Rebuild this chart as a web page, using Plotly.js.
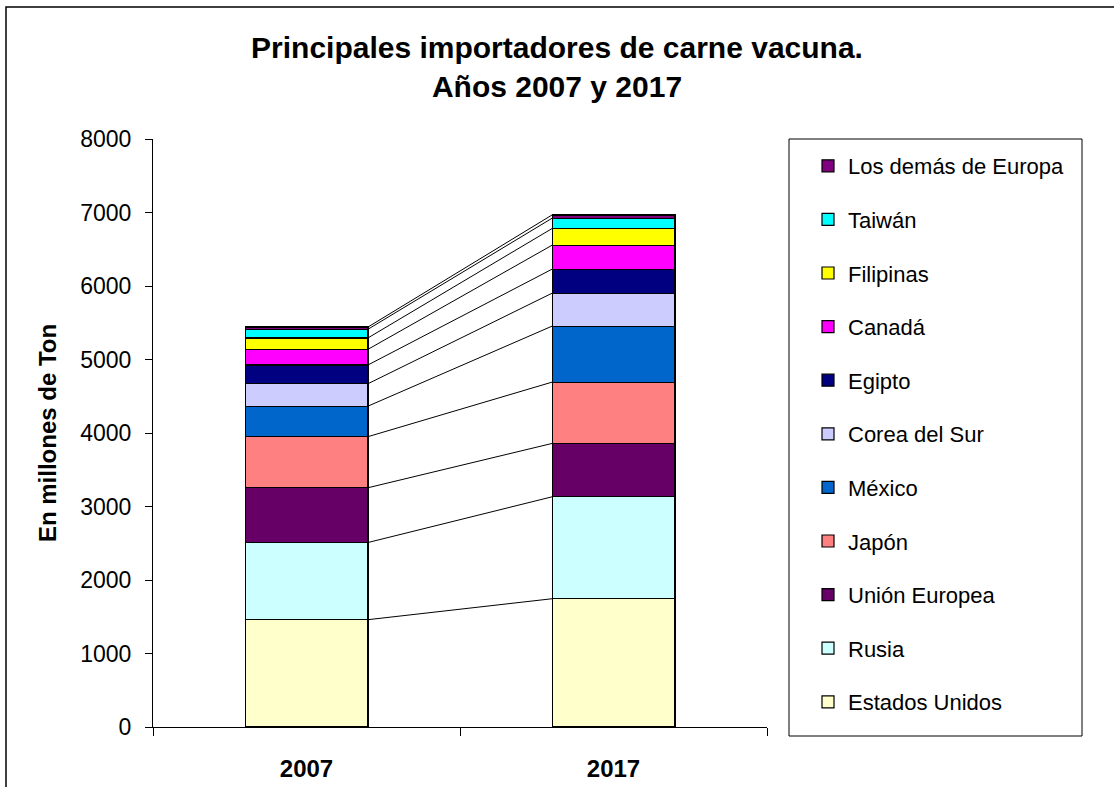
<!DOCTYPE html>
<html>
<head>
<meta charset="utf-8">
<script src="https://cdn.plot.ly/plotly-3.0.1.min.js"></script>
<style>html,body{margin:0;padding:0;background:#fff;} #chart{width:1114px;height:787px;}</style>
</head>
<body>
<div id="chart"></div>
<script>
const years = ['2007', '2017'];
const seriesNames = ['Estados Unidos', 'Rusia', 'Unión Europea', 'Japón', 'México', 'Corea del Sur', 'Egipto', 'Canadá', 'Filipinas', 'Taiwán', 'Los demás de Europa'];
const values2007 = [1460, 1050, 745, 695, 415, 305, 255, 213, 155, 118, 30];
const values2017 = [1745, 1387, 726, 834, 762, 448, 327, 326, 227, 140, 45];
const colors = ['#FFFFCC', '#CCFFFF', '#660066', '#FF8080', '#0066CC', '#CCCCFF', '#000080', '#FF00FF', '#FFFF00', '#00FFFF', '#800080'];

const font = 'Liberation Sans, Arial, sans-serif';
const traces = [];
seriesNames.forEach((name, i) => {
  traces.push({
    type: 'bar', name: name, x: years, y: [values2007[i], values2017[i]],
    marker: {color: colors[i], line: {color: '#000', width: 1.2}},
    legendgroup: 'g' + i, legendrank: 1000 - i, hoverinfo: 'name+y'
  });
});
// series lines connecting the stacks
let c1 = 0, c2 = 0;
seriesNames.forEach((name, i) => {
  c1 += values2007[i]; c2 += values2017[i];
  traces.push({
    type: 'scatter', mode: 'lines', x: [0.2, 0.8], y: [c1, c2], xaxis: 'x2',
    line: {color: '#000', width: 1}, showlegend: false, hoverinfo: 'skip'
  });
});

const W = 1114, H = 787, L = 153, R = 347, T = 139, B = 60;
const pw = W - L - R, ph = H - T - B;
const px = v => (v - L) / pw;
const py = v => (H - B - v) / ph;

const layout = {
  width: W, height: H,
  margin: {l: L, r: R, t: T, b: B, pad: 0},
  paper_bgcolor: '#fff', plot_bgcolor: '#fff',
  font: {family: font, color: '#000'},
  barmode: 'stack', bargap: 0.6,
  showlegend: true,
  title: {text: '<b>Principales importadores de carne vacuna.<br>Años 2007 y 2017</b>',
    font: {size: 30, family: font, color: '#000', lineposition: 'none'}, x: 0.5, xref: 'container', xanchor: 'center',
    y: 1 - 58 / H, yref: 'container', yanchor: 'top'},
  xaxis: {type: 'category', showgrid: false, zeroline: false, showline: true, linecolor: '#000', linewidth: 1,
    ticks: 'outside', tickson: 'boundaries', ticklen: 8, tickcolor: '#000',
    tickfont: {size: 24, family: font, color: '#000', weight: 'bold'}, ticklabelstandoff: 20, automargin: false},
  xaxis2: {overlaying: 'x', range: [-0.5, 1.5], visible: false, showgrid: false, zeroline: false},
  yaxis: {range: [0, 8000], dtick: 1000, showgrid: false, zeroline: false, showline: true, linecolor: '#000', linewidth: 1,
    ticks: 'outside', ticklen: 7, tickcolor: '#000', tickfont: {size: 23, family: font, color: '#000'},
    ticklabelstandoff: 9, automargin: false,
    title: {text: '<b>En millones de Ton</b>', font: {size: 24, family: font, color: '#000'}, standoff: 16}},
  legend: {x: px(808), xanchor: 'left', y: py(145), yanchor: 'top', traceorder: 'grouped',
    tracegroupgap: 22, bgcolor: 'rgba(0,0,0,0)', borderwidth: 0,
    font: {size: 22, family: font, color: '#000'}},
  shapes: [
    {type: 'rect', xref: 'paper', yref: 'paper', x0: px(789), x1: px(1082), y0: py(736), y1: py(139),
      line: {color: '#000', width: 1}, fillcolor: 'rgba(0,0,0,0)', layer: 'below'},
    {type: 'rect', xref: 'paper', yref: 'paper', x0: px(6), x1: px(1130), y0: py(800), y1: py(7),
      line: {color: '#000', width: 1.5}, fillcolor: 'rgba(0,0,0,0)', layer: 'below'}
  ]
};

Plotly.newPlot('chart', traces, layout, {displayModeBar: false, staticPlot: true});
</script>
</body>
</html>
